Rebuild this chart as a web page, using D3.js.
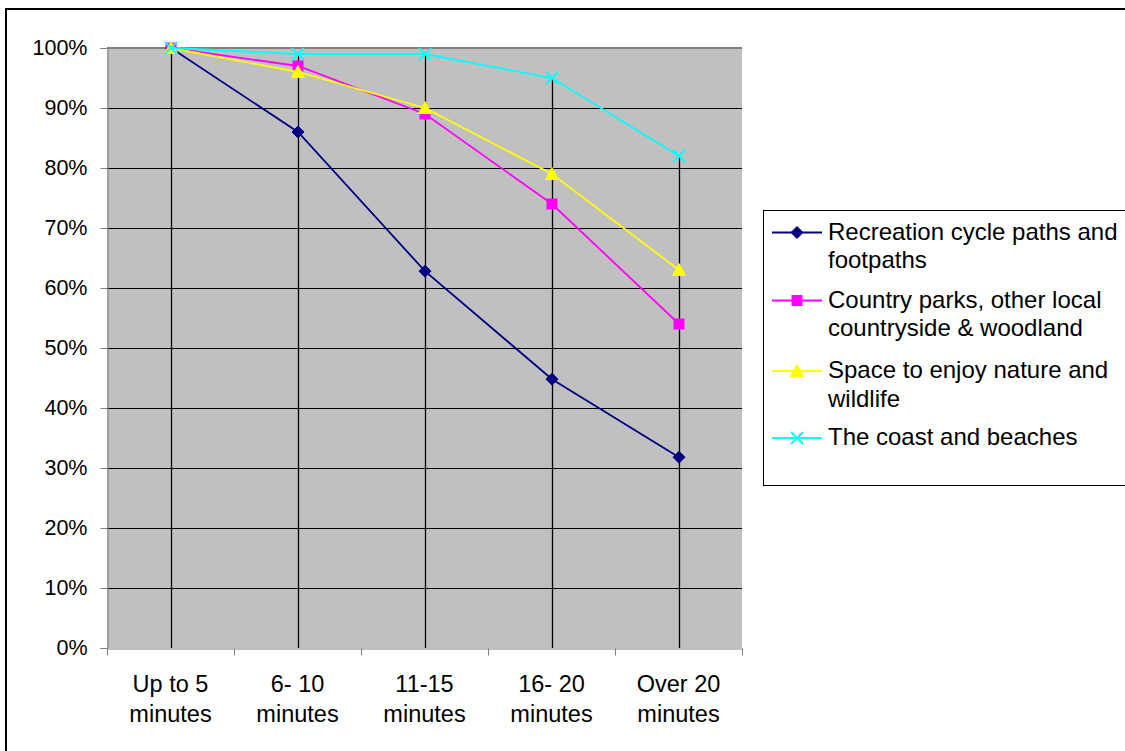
<!DOCTYPE html>
<html><head><meta charset="utf-8">
<script src="https://d3js.org/d3.v7.min.js"></script>
<style>body{margin:0;background:#fff}svg{display:block}text{font-family:"Liberation Sans",Arial,sans-serif;fill:#000}</style>
</head><body>
<script>
const categories = [["Up to 5","minutes"],["6- 10","minutes"],["11-15","minutes"],["16- 20","minutes"],["Over 20","minutes"]];
const seriesNames = [["Recreation cycle paths and","footpaths"],["Country parks, other local","countryside & woodland"],["Space to enjoy nature and","wildlife"],["The coast and beaches"]];
const recreation = [100, 86, 62.8, 44.8, 31.8];
const countryParks = [100, 97, 89, 74, 54];
const nature = [100, 96, 90, 79, 63];
const coast = [100, 99, 99, 95, 82];
const yTicks = [0,10,20,30,40,50,60,70,80,90,100];

const seriesVals = [recreation, countryParks, nature, coast];
const colors = ["#000080","#FF00FF","#FFFF00","#00FFFF"];
const markers = ["diamond","square","triangle","x"];

const W=1125,H=751;
const svg=d3.select("body").append("svg").attr("width",W).attr("height",H);
svg.append("rect").attr("width",W).attr("height",H).attr("fill","#fff");
// outer border
svg.append("rect").attr("x",6).attr("y",9).attr("width",1130).attr("height",760).attr("fill","none").attr("stroke","#000").attr("stroke-width",2);

const L=107,R=742,T=48,B=648;
const x=d3.scaleBand().domain(d3.range(categories.length)).range([L,R]);
const y=d3.scaleLinear().domain([0,100]).range([B,T]);
const cx=i=>Math.round(x(i)+x.bandwidth()/2)+0.5;

svg.append("rect").attr("x",L).attr("y",T).attr("width",R-L).attr("height",B-T).attr("fill","#C0C0C0");
// horizontal gridlines
svg.append("g").selectAll("line").data(yTicks.filter(d=>d>0&&d<100)).join("line")
 .attr("x1",L).attr("x2",R).attr("y1",d=>y(d)+0.5).attr("y2",d=>y(d)+0.5).attr("stroke","#000").attr("stroke-width",1);
svg.append("line").attr("x1",L).attr("x2",R).attr("y1",T).attr("y2",T).attr("stroke","#808080").attr("stroke-width",2);
// drop lines from highest value to axis
svg.append("g").selectAll("line").data(d3.range(categories.length)).join("line")
 .attr("x1",cx).attr("x2",cx)
 .attr("y1",i=>y(d3.max(seriesVals,s=>s[i]))).attr("y2",B).attr("stroke","#000").attr("stroke-width",1.3);

// y axis
const yAxis=svg.append("g").attr("transform",`translate(${L+0.5},0)`)
 .call(d3.axisLeft(y).tickValues(yTicks).tickFormat(d=>d+"%").tickSize(7).tickPadding(13));
yAxis.select(".domain").attr("stroke","#808080");
yAxis.selectAll(".tick line").attr("stroke","#808080");
yAxis.selectAll("text").attr("font-size",21.5).style("font-family","Liberation Sans, Arial, sans-serif");

// x axis
const xAxis=svg.append("g").attr("transform",`translate(0,${B+0.5})`)
 .call(d3.axisBottom(x).tickValues([]).tickSizeOuter(0));
xAxis.select(".domain").attr("stroke","#808080");
const bounds=d3.range(categories.length+1).map(i=>L+i*x.step());
xAxis.selectAll("line.b").data(bounds).join("line").attr("class","b")
 .attr("x1",d=>d+0.5).attr("x2",d=>d+0.5).attr("y1",0).attr("y2",7).attr("stroke","#808080");
const xl=svg.append("g").selectAll("text").data(categories).join("text")
 .attr("text-anchor","middle").attr("font-size",23.5)
 .attr("transform",(d,i)=>`translate(${x(i)+x.bandwidth()/2},${B})`);
xl.selectAll("tspan").data(d=>d).join("tspan").attr("x",0).attr("y",(d,j)=>44+j*30).text(d=>d);

function drawMarker(g,type,color,px,py){
  if(type==="diamond"){
    g.append("path").attr("d",`M${px},${py-6}L${px+6},${py}L${px},${py+6}L${px-6},${py}Z`).attr("fill",color).attr("stroke",color);
  } else if(type==="square"){
    g.append("rect").attr("x",px-5).attr("y",py-5).attr("width",10).attr("height",10).attr("fill",color).attr("stroke",color);
  } else if(type==="triangle"){
    g.append("path").attr("d",`M${px},${py-6.5}L${px+6.5},${py+5.5}L${px-6.5},${py+5.5}Z`).attr("fill",color).attr("stroke",color);
  } else {
    g.append("path").attr("d",`M${px-6},${py-6}L${px+6},${py+6}M${px-6},${py+6}L${px+6},${py-6}`).attr("stroke",color).attr("stroke-width",1.8).attr("fill","none");
  }
}

const line=d3.line().x((d,i)=>x(i)+x.bandwidth()/2+0.5).y(d=>y(d));
seriesVals.forEach((vals,k)=>{
  const g=svg.append("g");
  g.append("path").datum(vals).attr("d",line).attr("fill","none").attr("stroke",colors[k]).attr("stroke-width",1.8);
  vals.forEach((v,i)=>drawMarker(g,markers[k],colors[k],x(i)+x.bandwidth()/2+0.5,y(v)));
});

// legend
svg.append("rect").attr("x",763.5).attr("y",210.5).attr("width",400).attr("height",275).attr("fill","#fff").attr("stroke","#000").attr("stroke-width",1);
const itemY=[232.5,300.5,371,438];
seriesNames.forEach((lines,k)=>{
  const g=svg.append("g");
  const cy=itemY[k];
  g.append("line").attr("x1",772).attr("x2",822).attr("y1",cy).attr("y2",cy).attr("stroke",colors[k]).attr("stroke-width",1.8);
  drawMarker(g,markers[k],colors[k],797,cy);
  const t=g.append("text").attr("font-size",24);
  lines.forEach((s,j)=>t.append("tspan").attr("x",828).attr("y",cy+7+j*28.5).text(s));
});
</script>
</body></html>
